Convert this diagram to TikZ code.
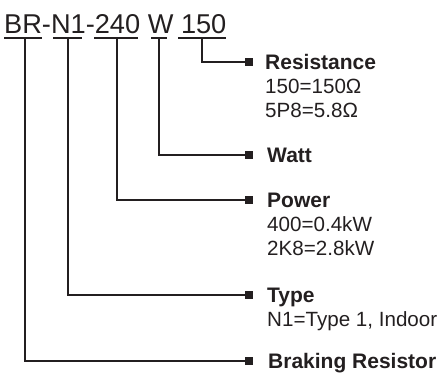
\documentclass[tikz,border=0pt]{standalone}
\usepackage{fontspec}
\setmainfont{Liberation Sans}
\definecolor{ink}{HTML}{231F20}
\tikzset{
  leader/.style={draw=ink, line width=1.6pt},
  uline/.style={draw=ink, line width=1.8pt},
  endsq/.style={fill=ink, draw=none, minimum size=7.5pt, inner sep=0pt, outer sep=0pt, rectangle},
  lab/.style={anchor=base west, inner sep=0pt, text=ink, font=\fontsize{21}{24}\selectfont\bfseries},
  desc/.style={anchor=base west, inner sep=0pt, text=ink, font=\fontsize{20.6}{24}\selectfont, align=left},
  code/.style={anchor=base west, inner sep=0pt, text=ink, font=\fontsize{27.2}{30}\selectfont},
}
\begin{document}
\begin{tikzpicture}[x=1pt,y=-1pt]
\useasboundingbox (0,0) rectangle (438,373);
% header code
\node[code] (hdr) at (4,33) {BR-N1-240 W 150};
% underline anchors
\coordinate (uBRa) at (4,38);   \coordinate (uBRb) at (42,38);
\coordinate (uN1a) at (53,38);  \coordinate (uN1b) at (82,38);
\coordinate (u24a) at (94,38);  \coordinate (u24b) at (138,38);
\coordinate (uWa) at (151,38);  \coordinate (uWb) at (167,38);
\coordinate (u15a) at (178,38); \coordinate (u15b) at (226,38);
\draw[uline] (uBRa) -- (uBRb);
\draw[uline] (uN1a) -- (uN1b);
\draw[uline] (u24a) -- (u24b);
\draw[uline] (uWa) -- (uWb);
\draw[uline] (u15a) -- (u15b);
% vertical starts
\coordinate (sBR) at (25,38);
\coordinate (sN1) at (68,38);
\coordinate (s24) at (117,38);
\coordinate (sW) at (159,38);
\coordinate (s15) at (202,38);
% end squares
\node[endsq] (qRes) at (249,62) {};
\node[endsq] (qWatt) at (249,155) {};
\node[endsq] (qPow) at (249,200) {};
\node[endsq] (qType) at (249,295) {};
\node[endsq] (qBrk) at (249,361) {};
% leaders
\draw[leader] (s15) |- (qRes.center);
\draw[leader] (sW) |- (qWatt.center);
\draw[leader] (s24) |- (qPow.center);
\draw[leader] (sN1) |- (qType.center);
\draw[leader] (sBR) |- (qBrk.center);
% labels
\node[lab] (lRes) at (265,69) {Resistance};
\node[desc] (dRes) at (265,93) {150=150Ω};
\node[desc] (dRes2) at (265,117) {5P8=5.8Ω};
\node[lab] (lWatt) at (267,162) {Watt};
\node[lab] (lPow) at (267,207) {Power};
\node[desc] (dPow) at (267,231) {400=0.4kW};
\node[desc] (dPow2) at (267,255) {2K8=2.8kW};
\node[lab] (lType) at (267,302) {Type};
\node[desc] (dType) at (267,326) {N1=Type 1, Indoor};
\node[lab] (lBrk) at (268,368) {Braking Resistor};
\end{tikzpicture}
\end{document}
